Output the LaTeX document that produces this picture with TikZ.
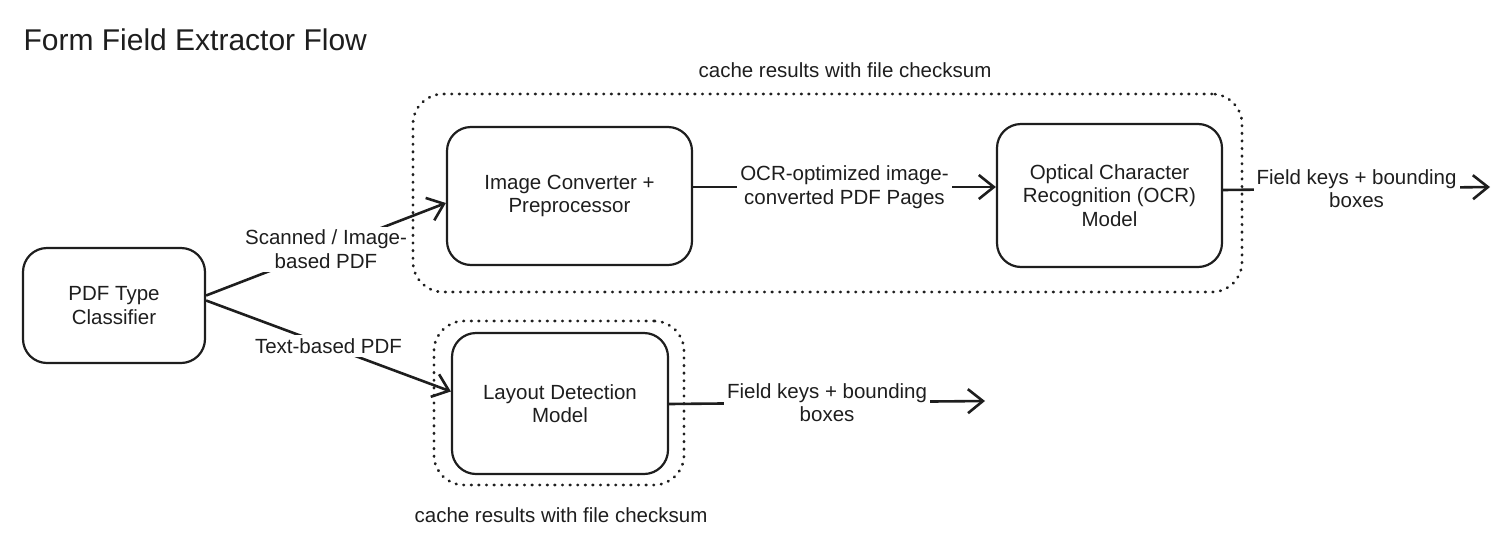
\documentclass[tikz,border=0pt]{standalone}
\usepackage{fontspec}
\setmainfont{Liberation Sans}
\usetikzlibrary{arrows.meta}
\definecolor{ink}{HTML}{1E1E1E}
\begin{document}
\begin{tikzpicture}[x=1pt,y=-1pt,
  txt/.style={font=\fontsize{20.5}{23.5}\selectfont, text=ink, align=center},
  box/.style={draw=ink, line width=2.2pt, rounded corners=24pt, txt, inner sep=0pt},
  group/.style={draw=ink, line width=2.8pt, dash pattern=on 0.6pt off 7pt, line cap=round, rounded corners=30pt, inner sep=0pt},
  lbl/.style={txt, fill=white, inner sep=3pt},
  conn/.style={draw=ink, line width=2.6pt, -{Straight Barb[length=15pt,width=24pt,line width=2.6pt]}},
]
\useasboundingbox (0,0) rectangle (1506,552);

% title and captions
\node[txt, anchor=west, font=\fontsize{30}{34}\selectfont] (title) at (20,40) {Form Field Extractor Flow};
\node[txt] (cap1) at (845,70) {cache results with file checksum};
\node[txt] (cap2) at (561,515) {cache results with file checksum};

% boxes
\node[box, minimum width=182pt, minimum height=115pt] (cls) at (114,305.5) {PDF Type\\Classifier};
\node[box, minimum width=245pt, minimum height=138pt] (img) at (569.5,196) {Image Converter +\\Preprocessor};
\node[box, minimum width=225pt, minimum height=143pt] (ocr) at (1109.5,195.5) {Optical Character\\Recognition (OCR)\\Model};
\node[box, minimum width=216pt, minimum height=141pt] (lay) at (560,403.5) {Layout Detection\\Model};

% free ends
\coordinate (out1) at (1490,187);
\coordinate (out2) at (985,401);

% connectors
\draw[conn] ([yshift=10pt]cls.east) -- node[lbl] (l1) {Scanned / Image-\\based PDF} ([yshift=-7pt]img.west);
\draw[conn] ([yshift=5pt]cls.east) -- node[lbl] (l2) {Text-based PDF} ([yshift=12pt]lay.west);
\draw[conn] ([yshift=9pt]img.east) -- node[lbl] (l3) {OCR-optimized image-\\converted PDF Pages} ([yshift=8.5pt]ocr.west);
\draw[conn] ([yshift=5.5pt]ocr.east) -- node[lbl, pos=0.5] (l4) {Field keys + bounding\\boxes} (out1);
\draw[conn] ([yshift=-0.5pt]lay.east) -- node[lbl, pos=0.5] (l5) {Field keys + bounding\\boxes} (out2);

% dotted groups
\node[group, minimum width=829pt, minimum height=198pt] (g1) at (827.5,193) {};
\node[group, minimum width=250pt, minimum height=164pt] (g2) at (559,403) {};
\end{tikzpicture}
\end{document}
